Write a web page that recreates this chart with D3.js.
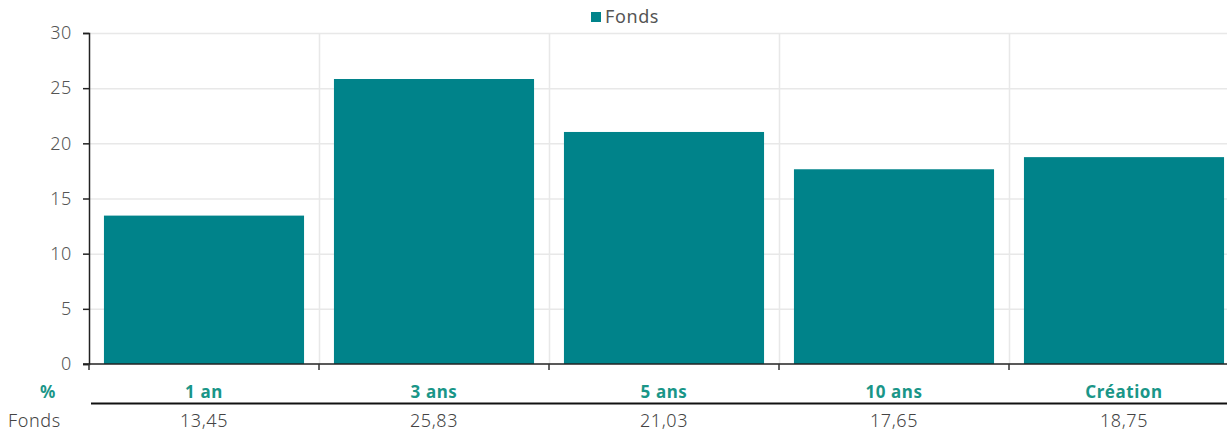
<!DOCTYPE html>
<html lang="fr">
<head>
  <meta charset="UTF-8">
  <title>Fonds</title>
  <script src="https://d3js.org/d3.v7.min.js"></script>
  <style>
    body { margin: 0; background: #fff; overflow: hidden; }
    text { font-family: "Noto Sans", sans-serif; letter-spacing: 0.6px; }
  </style>
</head>
<body>
  <script>
    // Data
    const categories = ['1 an', '3 ans', '5 ans', '10 ans', 'Création'];
    const fonds = [13.45, 25.83, 21.03, 17.65, 18.75];
    const yTicks = [0, 5, 10, 15, 20, 25, 30];
    const seriesName = 'Fonds';

    const width = 1227;
    const height = 431;
    const margin = { top: 33, left: 89, bottom: 364 };
    const bandW = 230;

    const svg = d3.select('body')
      .append('svg')
      .attr('width', width)
      .attr('height', height);

    const x = d3.scaleBand()
      .domain(categories)
      .range([margin.left, margin.left + bandW * categories.length])
      .paddingInner(0.13)
      .paddingOuter(0.065);

    const y = d3.scaleLinear()
      .domain([0, 30])
      .range([margin.bottom, margin.top]);

    // Horizontal grid
    svg.append('g')
      .selectAll('line')
      .data(yTicks.slice(1))
      .enter()
      .append('line')
      .attr('x1', margin.left)
      .attr('x2', width)
      .attr('y1', d => y(d) + 0.5)
      .attr('y2', d => y(d) + 0.5)
      .attr('stroke', '#e8e8e8')
      .attr('stroke-width', 1.5);

    // Vertical grid at band boundaries
    const bounds = categories.slice(1).map((c, i) => margin.left + bandW * (i + 1));
    svg.append('g')
      .selectAll('line')
      .data(bounds)
      .enter()
      .append('line')
      .attr('x1', d => d + 0.5)
      .attr('x2', d => d + 0.5)
      .attr('y1', margin.top)
      .attr('y2', margin.bottom)
      .attr('stroke', '#e8e8e8')
      .attr('stroke-width', 1.5);

    // Bars
    svg.append('g')
      .selectAll('rect')
      .data(fonds)
      .enter()
      .append('rect')
      .attr('x', (d, i) => x(categories[i]))
      .attr('y', d => y(d))
      .attr('width', x.bandwidth())
      .attr('height', d => y(0) - y(d))
      .attr('fill', '#00838a');

    // Y axis
    const yAxis = svg.append('g')
      .attr('transform', `translate(${margin.left},0)`)
      .call(d3.axisLeft(y).tickValues(yTicks).tickSize(6).tickPadding(11));
    yAxis.select('.domain').attr('stroke', '#222').attr('stroke-width', 1.5);
    yAxis.selectAll('.tick line').attr('stroke', '#222').attr('stroke-width', 1.5);
    yAxis.selectAll('.tick text')
      .attr('font-size', 18)
      .attr('fill', '#555')
      .style('font-weight', 300);

    // X axis line and ticks
    svg.append('line')
      .attr('x1', margin.left - 6)
      .attr('x2', width)
      .attr('y1', margin.bottom)
      .attr('y2', margin.bottom)
      .attr('stroke', '#222')
      .attr('stroke-width', 1.5);
    svg.append('g')
      .selectAll('line')
      .data([margin.left].concat(bounds))
      .enter()
      .append('line')
      .attr('x1', d => d)
      .attr('x2', d => d)
      .attr('y1', margin.bottom)
      .attr('y2', margin.bottom + 6)
      .attr('stroke', '#333')
      .attr('stroke-width', 1.5);

    // Legend
    const legend = svg.append('g');
    legend.append('rect')
      .attr('x', 591)
      .attr('y', 12)
      .attr('width', 10)
      .attr('height', 10)
      .attr('fill', '#00838a');
    legend.append('text')
      .attr('x', 605)
      .attr('y', 23)
      .attr('font-size', 18)
      .attr('fill', '#555')
      .text(seriesName);

    // Table under the chart
    const teal = '#1a9688';
    svg.append('text')
      .attr('x', 48)
      .attr('y', 398)
      .attr('text-anchor', 'middle')
      .attr('font-size', 17)
      .attr('font-weight', 'bold')
      .attr('fill', teal)
      .text('%');

    svg.append('g')
      .selectAll('text')
      .data(categories)
      .enter()
      .append('text')
      .attr('x', d => x(d) + x.bandwidth() / 2)
      .attr('y', 398)
      .attr('text-anchor', 'middle')
      .attr('font-size', 17)
      .attr('font-weight', 'bold')
      .attr('fill', teal)
      .text(d => d);

    svg.append('line')
      .attr('x1', 91)
      .attr('x2', width)
      .attr('y1', 403.5)
      .attr('y2', 403.5)
      .attr('stroke', '#111')
      .attr('stroke-width', 2);

    svg.append('text')
      .attr('x', 8)
      .attr('y', 427)
      .attr('font-size', 18)
      .attr('fill', '#444')
      .style('font-weight', 300)
      .text(seriesName);

    svg.append('g')
      .selectAll('text')
      .data(fonds)
      .enter()
      .append('text')
      .attr('x', (d, i) => x(categories[i]) + x.bandwidth() / 2)
      .attr('y', 427)
      .attr('text-anchor', 'middle')
      .attr('font-size', 18)
      .attr('fill', '#444')
      .style('font-weight', 300)
      .text(d => d.toFixed(2).replace('.', ','));
  </script>
</body>
</html>
